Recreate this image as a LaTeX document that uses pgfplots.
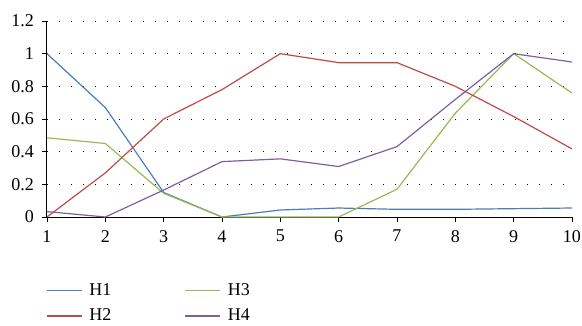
\documentclass[border=0pt]{standalone}
\usepackage{pgfplots}
\pgfplotsset{compat=1.18}
\usepackage{fontspec}
\setmainfont{Liberation Serif}

\definecolor{hone}{HTML}{4A7EBB}
\definecolor{htwo}{HTML}{BE4B48}
\definecolor{hthree}{HTML}{98B954}
\definecolor{hfour}{HTML}{7D60A0}

\begin{document}
\fontsize{18}{21}\selectfont
\begin{tikzpicture}
\useasboundingbox (-47pt,-108pt) rectangle (535pt,217pt);
\begin{axis}[
  at={(0pt,0pt)}, anchor=south west,
  scale only axis,
  width=525pt, height=196pt,
  xmin=1, xmax=10, ymin=0, ymax=1.2,
  xtick={1,...,10},
  ytick={0,0.2,...,1.2},
  yticklabels={0,0.2,0.4,0.6,0.8,1,1.2},
  axis lines=left,
  axis line style={-, line width=1pt, black},
  tick align=outside,
  major tick length=5pt,
  tick style={black, line width=0.8pt},
  ymajorgrids,
  major grid style={black, line width=1pt, dash pattern=on 1pt off 11pt},
  /pgf/number format/assume math mode=true,
  ticklabel style={font=\fontsize{18}{21}\selectfont},
  yticklabel style={xshift=-2pt},
  xticklabel style={yshift=-2pt},
  every axis plot/.append style={line width=1.2pt, mark=none},
  legend columns=2,
  legend style={draw=none, fill=none, at={(-2pt,-63pt)}, anchor=north west,
    font=\fontsize{18}{20}\selectfont,
    row sep=7pt, inner sep=1pt,
    /tikz/every even column/.append style={column sep=71pt}},
  legend cell align=left,
  legend image code/.code={\draw[#1, line width=1.4pt] (0pt,0pt) -- (35pt,0pt); \path (40pt,0pt);},
]
% plotted in legend order: first row H1, H3; second row H2, H4
\addplot[hone] coordinates {(1,1.0) (2,0.67) (3,0.15) (4,0.0) (5,0.043) (6,0.055) (7,0.047) (8,0.047) (9,0.051) (10,0.055)};
\addlegendentry{H1}
\addplot[hthree] coordinates {(1,0.485) (2,0.45) (3,0.145) (4,0.0) (5,0.0) (6,0.0) (7,0.17) (8,0.636) (9,1.0) (10,0.759)};
\addlegendentry{H3}
\addplot[htwo] coordinates {(1,0.0) (2,0.27) (3,0.6) (4,0.78) (5,1.0) (6,0.945) (7,0.945) (8,0.80) (9,0.615) (10,0.417)};
\addlegendentry{H2}
\addplot[hfour] coordinates {(1,0.033) (2,0.0) (3,0.165) (4,0.339) (5,0.356) (6,0.309) (7,0.431) (8,0.72) (9,1.0) (10,0.949)};
\addlegendentry{H4}
\end{axis}
\end{tikzpicture}
\end{document}
